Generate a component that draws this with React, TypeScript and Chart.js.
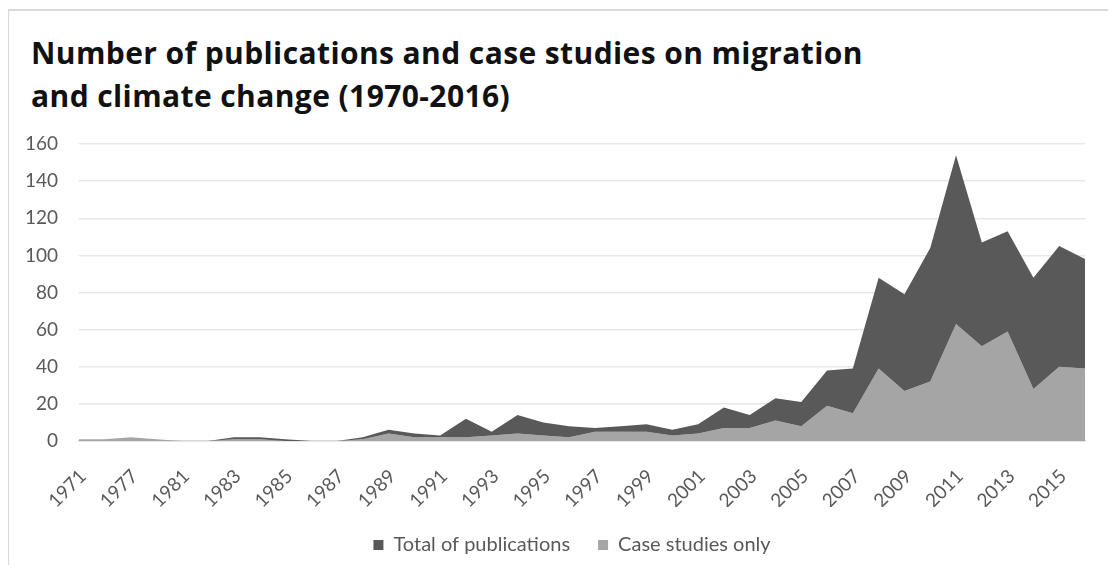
import React, { useEffect, useRef } from "react";
import { Chart, registerables } from "chart.js";

Chart.register(...registerables);

// Years on the category axis (every other one is labelled)
const years: string[] = [
  "1971", "1976", "1977", "1979", "1981", "1982", "1983", "1984", "1985", "1986",
  "1987", "1988", "1989", "1990", "1991", "1992", "1993", "1994", "1995", "1996",
  "1997", "1998", "1999", "2000", "2001", "2002", "2003", "2004", "2005", "2006",
  "2007", "2008", "2009", "2010", "2011", "2012", "2013", "2014", "2015", "2016",
];

// All publications per year
const totalPublications: number[] = [
  1, 1, 2, 1, 0, 0, 2, 2, 1, 0,
  0, 2, 6, 4, 3, 12, 5, 14, 10, 8,
  7, 8, 9, 6, 9, 18, 14, 23, 21, 38,
  39, 88, 79, 104, 154, 107, 113, 88, 105, 98,
];

// Case studies per year (subset of the total)
const caseStudies: number[] = [
  1, 1, 2, 1, 0, 0, 1, 1, 0, 0,
  0, 1, 4, 2, 2, 2, 3, 4, 3, 2,
  5, 5, 5, 3, 4, 7, 7, 11, 8, 19,
  15, 39, 27, 32, 63, 51, 59, 28, 40, 39,
];

const yTicks = { min: 0, max: 160, step: 20 };

const titleLines = [
  "Number of publications and case studies on migration",
  "and climate change (1970-2016)",
];

const TITLE_FONT = "'Open Sans', Lato, sans-serif";
const FONT = "Lato, 'Open Sans', sans-serif";
const TEXT_GREY = "#595959";

export default function App() {
  const canvasRef = useRef<HTMLCanvasElement | null>(null);

  useEffect(() => {
    const canvas = canvasRef.current;
    if (!canvas) return;
    const chart = new Chart(canvas, {
      type: "line",
      data: {
        labels: years,
        datasets: [
          {
            label: "Total of publications",
            data: totalPublications,
            backgroundColor: "#595959",
            borderColor: "#595959",
            borderWidth: 0,
            pointRadius: 0,
            tension: 0,
            fill: "+1",
          },
          {
            label: "Case studies only",
            data: caseStudies,
            backgroundColor: "#a5a5a5",
            borderColor: "#a5a5a5",
            borderWidth: 0,
            pointRadius: 0,
            tension: 0,
            fill: "origin",
          },
        ],
      },
      options: {
        responsive: false,
        animation: false,
        layout: { padding: { left: 14, right: 14, top: 136, bottom: 0 } },
        plugins: {
          tooltip: { enabled: false },
          title: { display: false },
          legend: {
            display: true,
            position: "bottom",
            align: "center",
            labels: {
              color: TEXT_GREY,
              font: { family: FONT, size: 20 },
              boxWidth: 10,
              boxHeight: 10,
              padding: 28,
            },
          },
        },
        scales: {
          x: {
            type: "category",
            offset: false,
            grid: { display: false },
            border: { display: true, color: "#d9d9d9", width: 1.5 },
            ticks: {
              autoSkip: false,
              minRotation: 45,
              maxRotation: 45,
              padding: 16,
              labelOffset: 4,
              color: TEXT_GREY,
              font: { family: FONT, size: 19 },
              callback: (_v: any, i: number) => (i % 2 === 0 ? years[i] : ""),
            },
            afterFit: (scale: any) => {
              scale.height = 66;
            },
          },
          y: {
            type: "linear",
            position: "left",
            min: yTicks.min,
            max: yTicks.max,
            border: { display: false },
            grid: { color: "#e7e7e7", lineWidth: 1.5, drawTicks: false },
            ticks: {
              stepSize: yTicks.step,
              padding: 21,
              color: TEXT_GREY,
              font: { family: FONT, size: 19 },
            },
            afterFit: (scale: any) => {
              scale.width = 57;
            },
          },
          // empty right-hand gutter so the legend stays centred on the frame
          gutter: {
            type: "linear",
            position: "right",
            display: true,
            grid: { display: false, drawTicks: false },
            border: { display: false },
            ticks: { display: false },
            afterFit: (scale: any) => {
              scale.width = 37;
            },
          },
        },
      } as any,
    });
    return () => chart.destroy();
  }, []);

  return (
    <div
      style={{
        position: "relative",
        width: 1100,
        height: 557,
        overflow: "hidden",
      }}
    >
      <div
        style={{
          position: "absolute",
          left: -1,
          top: 1,
          width: 1300,
          height: 700,
          borderTop: "2px solid #d9d9d9",
          borderLeft: "2px solid #d9d9d9",
        }}
      />
      <div
        style={{
          position: "absolute",
          left: 23,
          top: 23,
          fontFamily: TITLE_FONT,
          fontWeight: 700,
          fontSize: 30,
          lineHeight: "43px",
          letterSpacing: "0.4px",
          color: "#111111",
          whiteSpace: "nowrap",
        }}
      >
        {titleLines.map((line) => (
          <div key={line}>{line}</div>
        ))}
      </div>
      <canvas
        ref={canvasRef}
        width={1128}
        height={557}
        style={{ position: "absolute", left: 0, top: 0, width: 1128, height: 557 }}
      />
    </div>
  );
}
